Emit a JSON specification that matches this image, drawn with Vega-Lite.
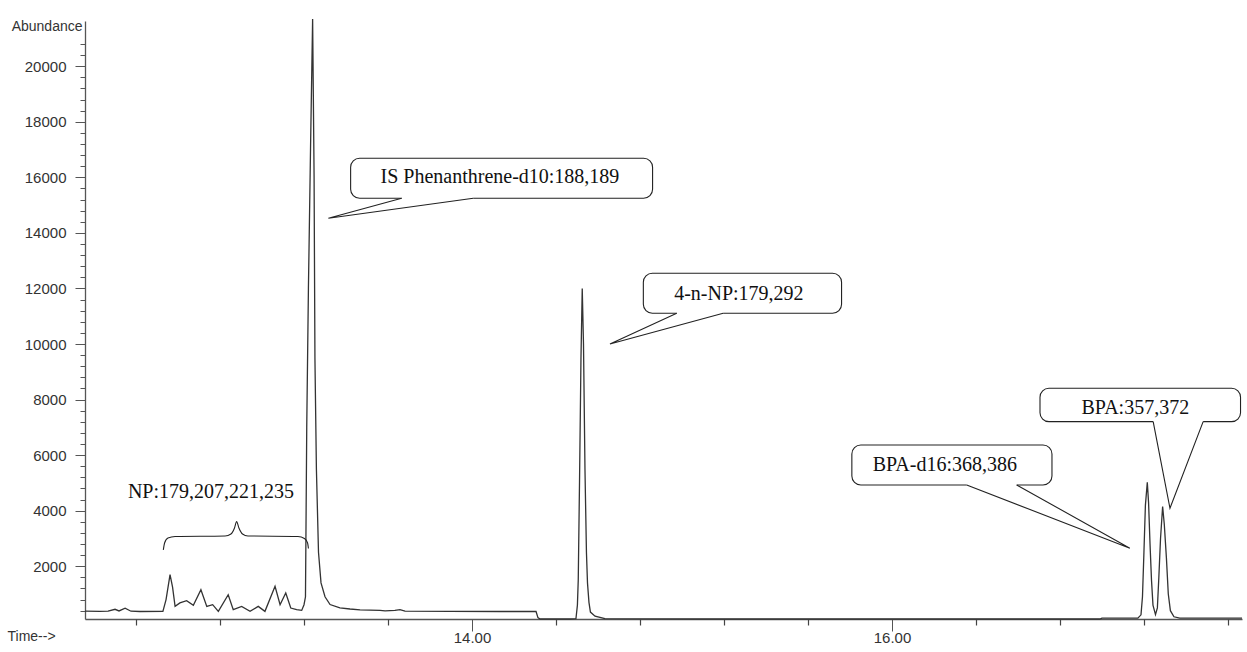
{
  "$schema": "https://vega.github.io/schema/vega-lite/v6.json",
  "width": 1157,
  "height": 598,
  "autosize": {"type": "none"},
  "padding": {"left": 85, "top": 21, "right": 5, "bottom": 33},
  "background": "white",
  "config": {"view": {"stroke": null}},
  "datasets": {
    "trace": [
      {"t": 12.157, "a": 380}, {"t": 12.228, "a": 375}, {"t": 12.267, "a": 380}, {"t": 12.300, "a": 450},
      {"t": 12.319, "a": 390}, {"t": 12.348, "a": 490}, {"t": 12.376, "a": 380}, {"t": 12.419, "a": 370},
      {"t": 12.528, "a": 375}, {"t": 12.543, "a": 800}, {"t": 12.562, "a": 1695}, {"t": 12.574, "a": 1250},
      {"t": 12.586, "a": 555}, {"t": 12.609, "a": 680}, {"t": 12.641, "a": 760}, {"t": 12.673, "a": 590},
      {"t": 12.709, "a": 1155}, {"t": 12.737, "a": 555}, {"t": 12.765, "a": 615}, {"t": 12.792, "a": 375},
      {"t": 12.839, "a": 975}, {"t": 12.863, "a": 435}, {"t": 12.903, "a": 555}, {"t": 12.943, "a": 375},
      {"t": 12.982, "a": 555}, {"t": 13.014, "a": 375}, {"t": 13.062, "a": 1275}, {"t": 13.086, "a": 615},
      {"t": 13.113, "a": 1035}, {"t": 13.137, "a": 495}, {"t": 13.165, "a": 435}, {"t": 13.189, "a": 410},
      {"t": 13.200, "a": 615}, {"t": 13.207, "a": 900}, {"t": 13.213, "a": 7000}, {"t": 13.221, "a": 12000},
      {"t": 13.231, "a": 17000}, {"t": 13.241, "a": 21700}, {"t": 13.248, "a": 16000}, {"t": 13.252, "a": 9500},
      {"t": 13.259, "a": 5500}, {"t": 13.269, "a": 2500}, {"t": 13.281, "a": 1400}, {"t": 13.300, "a": 900},
      {"t": 13.324, "a": 620}, {"t": 13.371, "a": 500}, {"t": 13.419, "a": 460}, {"t": 13.467, "a": 430},
      {"t": 13.514, "a": 420}, {"t": 13.562, "a": 410}, {"t": 13.586, "a": 390}, {"t": 13.633, "a": 410},
      {"t": 13.657, "a": 440}, {"t": 13.681, "a": 380}, {"t": 13.895, "a": 375}, {"t": 14.133, "a": 370},
      {"t": 14.305, "a": 370}, {"t": 14.314, "a": 150}, {"t": 14.324, "a": 100}, {"t": 14.467, "a": 100},
      {"t": 14.495, "a": 110}, {"t": 14.502, "a": 600}, {"t": 14.506, "a": 1500}, {"t": 14.512, "a": 5000},
      {"t": 14.519, "a": 9500}, {"t": 14.525, "a": 12000}, {"t": 14.531, "a": 10000}, {"t": 14.538, "a": 5500},
      {"t": 14.545, "a": 2500}, {"t": 14.550, "a": 1400}, {"t": 14.557, "a": 700}, {"t": 14.564, "a": 350},
      {"t": 14.586, "a": 200}, {"t": 14.633, "a": 110}, {"t": 15.086, "a": 100}, {"t": 16.990, "a": 100},
      {"t": 17.000, "a": 130}, {"t": 17.171, "a": 130}, {"t": 17.186, "a": 250}, {"t": 17.193, "a": 900},
      {"t": 17.200, "a": 2500}, {"t": 17.207, "a": 4200}, {"t": 17.216, "a": 5020}, {"t": 17.222, "a": 4300},
      {"t": 17.229, "a": 2800}, {"t": 17.236, "a": 1500}, {"t": 17.243, "a": 600}, {"t": 17.255, "a": 260},
      {"t": 17.264, "a": 500}, {"t": 17.271, "a": 1600}, {"t": 17.279, "a": 3000}, {"t": 17.289, "a": 4150},
      {"t": 17.297, "a": 3500}, {"t": 17.307, "a": 2300}, {"t": 17.316, "a": 1000}, {"t": 17.326, "a": 400},
      {"t": 17.343, "a": 180}, {"t": 17.371, "a": 130}, {"t": 17.667, "a": 130}
    ],
    "boxes": [
      {"id": "IS", "label": "IS Phenanthrene-d10:188,189", "x1": 13.422, "x2": 14.860, "y1": 15247, "y2": 16687, "tx": 14.133, "ty": 16014, "b1": 13.665, "b2": 14.006},
      {"id": "NP4", "label": "4-n-NP:179,292", "x1": 14.816, "x2": 15.760, "y1": 11107, "y2": 12547, "tx": 15.271, "ty": 11802, "b1": 14.975, "b2": 15.196},
      {"id": "BPA", "label": "BPA:357,372", "x1": 16.705, "x2": 17.660, "y1": 7205, "y2": 8407, "tx": 17.159, "ty": 7698, "b1": 17.244, "b2": 17.482},
      {"id": "BPAd16", "label": "BPA-d16:368,386", "x1": 15.809, "x2": 16.762, "y1": 4926, "y2": 6366, "tx": 16.252, "ty": 5646, "b1": 16.356, "b2": 16.594}
    ],
    "tails": [
      {"id": "IS", "ord": 1, "t": 13.665, "a": 15247}, {"id": "IS", "ord": 2, "t": 13.316, "a": 14527}, {"id": "IS", "ord": 3, "t": 14.006, "a": 15247},
      {"id": "NP4", "ord": 1, "t": 14.975, "a": 11107}, {"id": "NP4", "ord": 2, "t": 14.657, "a": 10002}, {"id": "NP4", "ord": 3, "t": 15.196, "a": 11107},
      {"id": "BPA", "ord": 1, "t": 17.244, "a": 7205}, {"id": "BPA", "ord": 2, "t": 17.324, "a": 4087}, {"id": "BPA", "ord": 3, "t": 17.482, "a": 7205},
      {"id": "BPAd16", "ord": 1, "t": 16.356, "a": 4926}, {"id": "BPAd16", "ord": 2, "t": 17.133, "a": 2647}, {"id": "BPAd16", "ord": 3, "t": 16.594, "a": 4926}
    ],
    "brace": [
      {"t": 12.530, "a": 2586}, {"t": 12.536, "a": 2838}, {"t": 12.552, "a": 3018}, {"t": 12.586, "a": 3072},
      {"t": 12.824, "a": 3090}, {"t": 12.852, "a": 3162}, {"t": 12.869, "a": 3378}, {"t": 12.879, "a": 3605},
      {"t": 12.890, "a": 3378}, {"t": 12.907, "a": 3162}, {"t": 12.933, "a": 3090}, {"t": 13.171, "a": 3072},
      {"t": 13.202, "a": 3000}, {"t": 13.217, "a": 2838}, {"t": 13.221, "a": 2640}
    ],
    "np": [{"label": "NP:179,207,221,235", "t": 12.757, "a": 4685}]
  },
  "layer": [
    {
      "data": {"name": "trace"},
      "mark": {"type": "line", "color": "#333333", "strokeWidth": 1.3},
      "encoding": {
        "x": {"field": "t", "type": "quantitative",
          "scale": {"domain": [12.157, 17.667], "nice": false, "zero": false},
          "axis": {"orient": "bottom", "values": [14, 16], "labelExpr": "format(datum.value, '.2f')", "tickSize": 12, "labelPadding": -1,
            "title": "Time-->", "titleX": -78, "titleY": 17, "titleAlign": "left", "titleBaseline": "middle",
            "domainColor": "#555555", "domainWidth": 1.3, "tickColor": "#555555", "grid": false, "labelFlush": false,
            "labelFont": "Liberation Sans", "labelFontSize": 15, "labelColor": "#333333",
            "titleFont": "Liberation Sans", "titleFontSize": 14, "titleFontWeight": "normal", "titleColor": "#333333"}},
        "y": {"field": "a", "type": "quantitative",
          "scale": {"domain": [100, 21630], "nice": false, "zero": false},
          "axis": {"orient": "left", "values": [2000, 4000, 6000, 8000, 10000, 12000, 14000, 16000, 18000, 20000], "format": "d",
            "tickSize": 10, "labelPadding": 9, "grid": false,
            "title": "Abundance", "titleAngle": 0, "titleX": -3, "titleY": 5, "titleAlign": "right", "titleBaseline": "middle",
            "domainColor": "#555555", "domainWidth": 1.3, "tickColor": "#555555",
            "labelFont": "Liberation Sans", "labelFontSize": 15, "labelColor": "#333333",
            "titleFont": "Liberation Sans", "titleFontSize": 14, "titleFontWeight": "normal", "titleColor": "#333333"}}
      }
    },
    {
      "data": {"values": [{"t": 15, "a": 5000}]},
      "mark": {"type": "point", "opacity": 0},
      "encoding": {
        "x": {"field": "t", "type": "quantitative", "scale": {"domain": [12.157, 17.667], "nice": false, "zero": false},
          "axis": {"orient": "bottom", "values": [12.4, 12.8, 13.2, 13.6, 14.4, 14.8, 15.2, 15.6, 16.4, 16.8, 17.2, 17.6],
            "tickSize": 6, "tickWidth": 1.2, "labels": false, "domain": false, "grid": false, "title": null, "tickColor": "#444444"}},
        "y": {"field": "a", "type": "quantitative", "scale": {"domain": [100, 21630], "nice": false, "zero": false},
          "axis": {"orient": "left", "values": [400, 800, 1200, 1600, 2400, 2800, 3200, 3600, 4400, 4800, 5200, 5600, 6400, 6800, 7200, 7600, 8400, 8800, 9200, 9600, 10400, 10800, 11200, 11600, 12400, 12800, 13200, 13600, 14400, 14800, 15200, 15600, 16400, 16800, 17200, 17600, 18400, 18800, 19200, 19600, 20400, 20800],
            "tickSize": 5, "labels": false, "domain": false, "grid": false, "title": null, "tickColor": "#555555"}}
      }
    },
    {
      "data": {"name": "boxes"},
      "mark": {"type": "rect", "fill": "white", "stroke": "#222222", "strokeWidth": 1.1, "cornerRadius": 9},
      "encoding": {
        "x": {"field": "x1", "type": "quantitative", "scale": {"domain": [12.157, 17.667], "nice": false, "zero": false}, "axis": null},
        "x2": {"field": "x2"},
        "y": {"field": "y1", "type": "quantitative", "scale": {"domain": [100, 21630], "nice": false, "zero": false}, "axis": null},
        "y2": {"field": "y2"}
      }
    },
    {
      "data": {"name": "boxes"},
      "mark": {"type": "rule", "stroke": "white", "strokeWidth": 2.5},
      "encoding": {
        "x": {"field": "b1", "type": "quantitative", "scale": {"domain": [12.157, 17.667], "nice": false, "zero": false}, "axis": null},
        "x2": {"field": "b2"},
        "y": {"field": "y1", "type": "quantitative", "scale": {"domain": [100, 21630], "nice": false, "zero": false}, "axis": null}
      }
    },
    {
      "data": {"name": "tails"},
      "mark": {"type": "line", "color": "#222222", "strokeWidth": 1.1},
      "encoding": {
        "x": {"field": "t", "type": "quantitative", "scale": {"domain": [12.157, 17.667], "nice": false, "zero": false}, "axis": null},
        "y": {"field": "a", "type": "quantitative", "scale": {"domain": [100, 21630], "nice": false, "zero": false}, "axis": null},
        "detail": {"field": "id"},
        "order": {"field": "ord"}
      }
    },
    {
      "data": {"name": "boxes"},
      "mark": {"type": "text", "font": "Liberation Serif", "fontSize": 20, "color": "#111111", "align": "center", "baseline": "middle"},
      "encoding": {
        "x": {"field": "tx", "type": "quantitative", "scale": {"domain": [12.157, 17.667], "nice": false, "zero": false}, "axis": null},
        "y": {"field": "ty", "type": "quantitative", "scale": {"domain": [100, 21630], "nice": false, "zero": false}, "axis": null},
        "text": {"field": "label"}
      }
    },
    {
      "data": {"name": "brace"},
      "mark": {"type": "line", "color": "#222222", "strokeWidth": 1.1, "interpolate": "monotone"},
      "encoding": {
        "x": {"field": "t", "type": "quantitative", "scale": {"domain": [12.157, 17.667], "nice": false, "zero": false}, "axis": null},
        "y": {"field": "a", "type": "quantitative", "scale": {"domain": [100, 21630], "nice": false, "zero": false}, "axis": null}
      }
    },
    {
      "data": {"name": "np"},
      "mark": {"type": "text", "font": "Liberation Serif", "fontSize": 20, "color": "#111111", "align": "center", "baseline": "middle"},
      "encoding": {
        "x": {"field": "t", "type": "quantitative", "scale": {"domain": [12.157, 17.667], "nice": false, "zero": false}, "axis": null},
        "y": {"field": "a", "type": "quantitative", "scale": {"domain": [100, 21630], "nice": false, "zero": false}, "axis": null},
        "text": {"field": "label"}
      }
    }
  ],
  "resolve": {"axis": {"x": "independent", "y": "independent"}}
}
